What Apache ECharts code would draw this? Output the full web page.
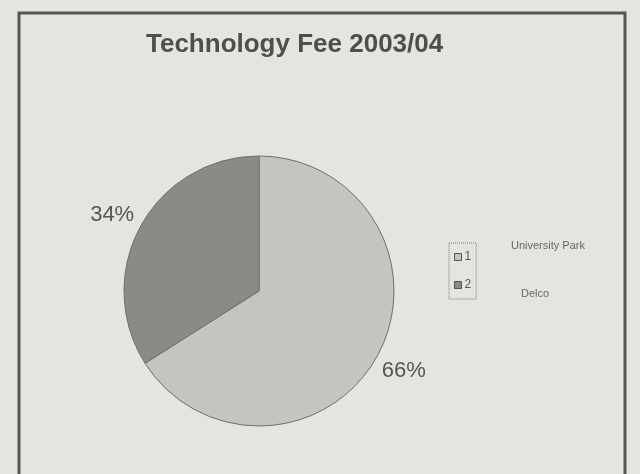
<!DOCTYPE html>
<html><head><meta charset="utf-8">
<script src="https://cdn.jsdelivr.net/npm/echarts@6/dist/echarts.min.js"></script>
<style>html,body{margin:0;padding:0;background:#e4e4e0;}#c{width:640px;height:474px;}</style>
</head><body><div id="c"></div>
<script>
const categories = ["University Park", "Delco"];
const legendLabels = ["1", "2"];
const values = [66, 34];
const colors = ["#c4c4c0", "#8a8a86"];
const labelShift = [[-18, 5], [16, -1]];

const chart = echarts.init(document.getElementById('c'), null, {renderer: 'canvas'});
chart.setOption({
  backgroundColor: '#e4e4e0',
  animation: false,
  title: {
    text: 'Technology Fee 2003/04',
    left: 141, top: 27,
    textStyle: {fontFamily: 'Liberation Sans', fontWeight: 'bold', fontSize: 26, color: '#4e4e4c'}
  },
  legend: {
    orient: 'vertical',
    left: 449, top: 243,
    itemWidth: 7, itemHeight: 7, itemGap: 16,
    padding: [8, 5, 8, 5],
    borderColor: '#777', borderWidth: 1, borderType: 'dotted',
    icon: 'rect',
    itemStyle: {borderColor: '#555', borderWidth: 1},
    formatter: function (name) { return legendLabels[categories.indexOf(name)]; },
    textStyle: {fontFamily: 'Liberation Sans', fontSize: 12, color: '#555', padding: [0,0,0,-2]},
    data: categories
  },
  graphic: [
    {type: 'rect', shape: {x: 19, y: 13, width: 606, height: 480}, style: {fill: 'none', stroke: '#555', lineWidth: 3}, silent: true},
    {type: 'text', left: 511, top: 240, style: {text: categories[0], font: '11px "Liberation Sans"', fill: '#666'}},
    {type: 'text', left: 521, top: 288, style: {text: categories[1], font: '11px "Liberation Sans"', fill: '#666'}}
  ],
  series: [{
    type: 'pie',
    center: [259, 291],
    radius: 135,
    startAngle: 90,
    clockwise: true,
    data: categories.map((n, i) => ({name: n, value: values[i], itemStyle: {color: colors[i]}})),
    itemStyle: {borderColor: '#6e6e6c', borderWidth: 1},
    label: {
      show: true, position: 'outside',
      formatter: '{d}%',
      fontFamily: 'Liberation Sans', fontSize: 22, color: '#555'
    },
    labelLine: {show: false, length: 20, length2: 0},
    labelLayout: function (p) { return {dx: labelShift[p.dataIndex][0], dy: labelShift[p.dataIndex][1]}; },
    emphasis: {disabled: true}
  }]
});
</script></body></html>
